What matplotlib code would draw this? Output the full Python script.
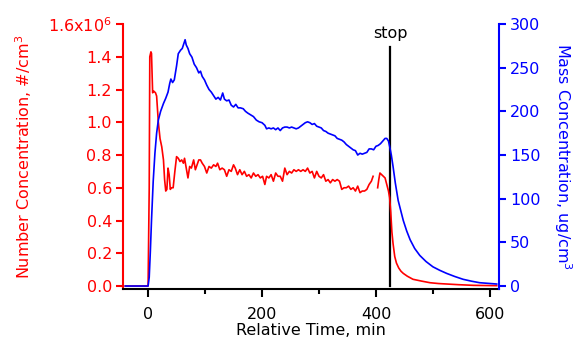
import numpy as np
import matplotlib
matplotlib.use('Agg')
import matplotlib.pyplot as plt

# number concentration (red), values in units of 1e6 #/cm3
t_num = [-40, -2, 0, 2, 3, 5, 6, 8, 10, 13, 15, 18, 21, 24, 27, 29, 31, 33, 35, 37,
         39, 41, 44, 47, 50, 53, 56, 59, 62, 64, 67, 70, 73, 76, 80, 83, 86, 89, 92, 95,
         99, 103, 107, 111, 115, 119, 122, 126, 130, 134, 138, 142, 146, 150, 153, 157,
         161, 165, 169, 173, 177, 181, 185, 189, 193, 197, 201, 205, 208, 212, 216, 220,
         224, 228, 232, 236, 240, 244, 248, 252, 256, 260, 264, 268, 272, 276, 280, 284,
         288, 292, 296, 300, 304, 308, 312, 316, 320, 324, 328, 332, 336, 340, 344, 348,
         352, 356, 360, 364, 368, 372, 376, 380, 384, 388, 392, 395, 398, 403, 405, 407,
         410, 413, 416, 419, 422, 424, 426, 428, 430, 433, 436, 440, 444, 448, 455, 465,
         480, 495, 510, 524, 545, 571, 590, 612]
num_conc = [0, 0, 0, 0.6, 1.40, 1.43, 1.42, 1.18, 1.19, 1.18, 1.16, 1.0, 0.9, 0.85, 0.77,
            0.65, 0.58, 0.59, 0.72, 0.68, 0.59, 0.60, 0.60, 0.70, 0.79, 0.78, 0.76, 0.77,
            0.75, 0.78, 0.72, 0.66, 0.73, 0.72, 0.77, 0.71, 0.74, 0.77, 0.77, 0.75, 0.73,
            0.69, 0.73, 0.72, 0.74, 0.73, 0.75, 0.71, 0.72, 0.71, 0.67, 0.71, 0.70, 0.74,
            0.72, 0.68, 0.71, 0.68, 0.70, 0.67, 0.68, 0.66, 0.69, 0.67, 0.68, 0.66, 0.67,
            0.62, 0.67, 0.66, 0.68, 0.64, 0.69, 0.67, 0.67, 0.64, 0.72, 0.68, 0.70, 0.69,
            0.71, 0.70, 0.71, 0.70, 0.71, 0.70, 0.72, 0.69, 0.70, 0.66, 0.70, 0.67, 0.66,
            0.68, 0.64, 0.65, 0.63, 0.65, 0.64, 0.65, 0.64, 0.59, 0.60, 0.60, 0.61, 0.59,
            0.60, 0.58, 0.61, 0.57, 0.58, 0.58, 0.59, 0.62, 0.64, 0.67, np.nan, 0.60, 0.65,
            0.69, 0.68, 0.67, 0.66, 0.62, 0.58, 0.54, 0.45, 0.33, 0.26, 0.18, 0.14, 0.11,
            0.09, 0.077, 0.06, 0.041, 0.03, 0.02, 0.015, 0.012, 0.008, 0.004, 0.003, 0.002]

# mass concentration (blue), ug/cm3
t_mass = [-40, 0, 2, 4, 6, 9, 12, 15, 18, 22, 27, 31, 35, 38, 40, 43, 46, 50, 53, 57, 60,
          63, 65, 67, 70, 73, 77, 81, 85, 89, 92, 95, 99, 103, 107, 111, 115, 119, 123,
          127, 131, 134, 138, 142, 146, 150, 154, 158, 162, 167, 171, 175, 180, 185, 190,
          195, 200, 205, 208, 212, 216, 220, 224, 228, 232, 236, 240, 244, 248, 252, 256,
          260, 264, 268, 272, 276, 280, 284, 288, 292, 296, 300, 304, 308, 312, 316, 320,
          324, 328, 332, 336, 340, 344, 348, 352, 356, 360, 364, 368, 372, 376, 380, 384,
          388, 392, 396, 400, 404, 408, 412, 416, 419, 422, 424, 427, 430, 434, 439, 443,
          448, 454, 460, 468, 477, 488, 500, 512, 524, 538, 553, 568, 582, 597, 612]
mass_conc = [0, 0, 10, 40, 75, 120, 152, 175, 190, 200, 209, 215, 222, 232, 237, 233, 236,
             252, 266, 270, 272, 278, 282, 276, 272, 266, 262, 254, 250, 244, 246, 240, 236,
             230, 225, 222, 218, 214, 216, 213, 221, 214, 212, 213, 207, 205, 208, 204, 204,
             203, 200, 198, 196, 194, 190, 188, 187, 184, 180, 181, 180, 181, 179, 181, 178,
             181, 182, 182, 181, 182, 181, 180, 181, 183, 185, 187, 188, 187, 185, 186, 183,
             182, 181, 178, 177, 175, 174, 173, 172, 169, 168, 167, 165, 162, 160, 158, 156,
             155, 150, 152, 151, 152, 153, 157, 157, 156, 160, 161, 163, 166, 169, 169, 166,
             160, 150, 137, 118, 98, 88, 75, 63, 53, 43, 35, 28, 22, 18, 14.5, 11, 7.7, 5.5,
             3.8, 3.0, 2.3]

stop_time = 425

left_ticks = [0, 0.2, 0.4, 0.6, 0.8, 1.0, 1.2, 1.4, 1.6]
left_labels = ['0.0', '0.2', '0.4', '0.6', '0.8', '1.0', '1.2', '1.4', '1.6x10$^6$']
right_ticks = [0, 50, 100, 150, 200, 250, 300]
x_ticks = [0, 200, 400, 600]
x_minor = [100, 300, 500]

plt.rcParams['font.family'] = 'DejaVu Sans'
plt.rcParams['mathtext.fontset'] = 'dejavusans'
fs = 11.5

fig = plt.figure(figsize=(5.77, 3.41), dpi=100)
ax = fig.add_axes([0.2132, 0.1525, 0.6516, 0.7771])
ax2 = ax.twinx()

ax.plot(np.array(t_num), np.array(num_conc) * 1e6, color='#ff0000', lw=1.2, zorder=3)
ax2.plot(t_mass, mass_conc, color='#0000ff', lw=1.2, zorder=3)
ax.axvline(stop_time, ymin=0.0113, ymax=0.914, color='black', lw=1.6)
ax.text(stop_time, 1.54e6, 'stop', ha='center', va='center', fontsize=fs)

ax.set_xlim(-44, 616)
ax.set_ylim(-0.0183e6, 1.6e6)
ax2.set_ylim(-3.4, 300)

ax.set_yticks([v * 1e6 for v in left_ticks])
ax.set_yticklabels(left_labels)
ax2.set_yticks(right_ticks)
ax.set_xticks(x_ticks)
ax.set_xticks(x_minor, minor=True)

for a in (ax, ax2):
    a.spines['top'].set_visible(False)
ax.spines['right'].set_visible(False)
ax2.spines['left'].set_visible(False)
ax2.spines['bottom'].set_visible(False)

ax.spines['left'].set_color('#ff0000')
ax.spines['left'].set_linewidth(1.5)
ax.spines['bottom'].set_linewidth(1.5)
ax2.spines['right'].set_color('#0000ff')
ax2.spines['right'].set_linewidth(1.5)

ax.tick_params(axis='y', colors='#ff0000', direction='out', length=5, width=1.5,
               labelsize=fs, pad=3)
ax2.tick_params(axis='y', colors='#0000ff', direction='out', length=5, width=1.5,
                labelsize=fs, pad=3)
ax.tick_params(axis='x', which='major', direction='out', length=6, width=1.5,
               labelsize=fs, pad=7)
ax.tick_params(axis='x', which='minor', direction='out', length=3.5, width=1.5)

ax.set_xlabel('Relative Time, min', fontsize=fs, labelpad=1)
ax.set_ylabel('Number Concentration, #/cm$^3$', color='#ff0000', fontsize=fs, labelpad=10)
ax2.set_ylabel('Mass Concentration, ug/cm$^3$', color='#0000ff', fontsize=fs,
               rotation=270, labelpad=24)

fig.savefig('out.png', dpi=100)
